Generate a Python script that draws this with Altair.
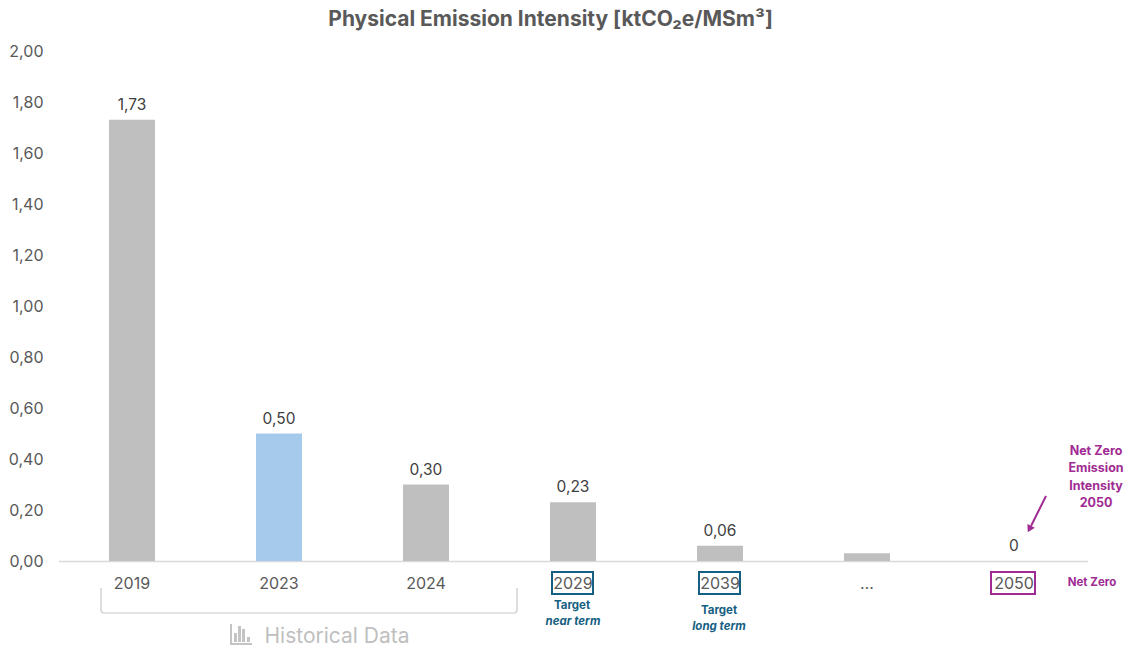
import altair as alt
import pandas as pd

# Emission intensity by year, with printed labels
years = ["2019", "2023", "2024", "2029", "2039", "…", "2050"]
values = [1.73, 0.50, 0.30, 0.23, 0.06, 0.03, 0.0]
labels = ["1,73", "0,50", "0,30", "0,23", "0,06", "", "0"]
bar_colors = ["#bfbfbf", "#a6caec", "#bfbfbf", "#bfbfbf", "#bfbfbf", "#bfbfbf", "#bfbfbf"]

TEAL = "#156082"
MAGENTA = "#a02b93"
GREY_TEXT = "#595959"
FONT = "Inter"

bars_df = pd.DataFrame({"year": years, "value": values, "label": labels, "color": bar_colors})

x_enc = alt.X(
    "year:N",
    sort=years,
    title=None,
    scale=alt.Scale(paddingInner=0, paddingOuter=0),
    axis=alt.Axis(
        labelAngle=0, labelFontSize=16, labelColor=GREY_TEXT, labelFont=FONT, labelPadding=14,
        ticks=False, domainColor="#d9d9d9", domainWidth=1.5, grid=False,
    ),
)
y_enc = alt.Y(
    "value:Q",
    title=None,
    scale=alt.Scale(domain=[0, 2], nice=False),
    axis=alt.Axis(
        values=[0, 0.2, 0.4, 0.6, 0.8, 1.0, 1.2, 1.4, 1.6, 1.8, 2.0],
        labelExpr="replace(format(datum.value, '.2f'), '.', ',')",
        labelFontSize=16, labelColor=GREY_TEXT, labelFont=FONT, labelPadding=15.5,
        ticks=False, domain=False, grid=False,
    ),
)

bars = alt.Chart(bars_df).mark_bar(size=46).encode(
    x=x_enc, y=y_enc, color=alt.Color("color:N", scale=None, legend=None)
)
bar_labels = alt.Chart(bars_df).mark_text(
    dy=-15, fontSize=15.5, font=FONT, color="#404040"
).encode(x=x_enc, y=y_enc, text="label:N")

OX, OY = 58.5, 51  # plot origin on the page
one_row = pd.DataFrame({"t": [0]})

# Notes and frames sit in the plot's pixel space, below and beside the bars
def note(text, px, py, color, size=11.5, weight="bold", style="normal"):
    return alt.Chart(pd.DataFrame({"t": [text]})).mark_text(
        fontSize=size, fontWeight=weight, fontStyle=style, color=color, font=FONT
    ).encode(x=alt.value(px - OX), y=alt.value(py - OY), text="t:N")

def frame(x0, x1, y0, y1, color):
    return alt.Chart(one_row).mark_rect(fill=None, stroke=color, strokeWidth=2).encode(
        x=alt.value(x0 - OX), x2=alt.value(x1 - OX), y=alt.value(y0 - OY), y2=alt.value(y1 - OY)
    )

def segment(x0, y0, x1, y1, color, width):
    return alt.Chart(one_row).mark_rule(color=color, strokeWidth=width).encode(
        x=alt.value(x0 - OX), x2=alt.value(x1 - OX), y=alt.value(y0 - OY), y2=alt.value(y1 - OY)
    )

def block(x0, x1, y0, y1):
    return alt.Chart(one_row).mark_rect(fill="#c4c4c4").encode(
        x=alt.value(x0 - OX), x2=alt.value(x1 - OX), y=alt.value(y0 - OY), y2=alt.value(y1 - OY)
    )

frames = [
    frame(552, 593, 572, 594, TEAL),
    frame(699, 740, 572, 594, TEAL),
    frame(991, 1035, 572, 594, MAGENTA),
]
notes = [
    note("Target", 572, 606, TEAL),
    note("near term", 573, 622, TEAL, style="italic"),
    note("Target", 719, 611, TEAL),
    note("long term", 719, 627, TEAL, style="italic"),
    note("Net Zero", 1092, 583, MAGENTA),
    note("Net Zero", 1096, 451, MAGENTA, size=12.5),
    note("Emission", 1096, 468, MAGENTA, size=12.5),
    note("Intensity", 1096, 486, MAGENTA, size=12.5),
    note("2050", 1096, 503, MAGENTA, size=12.5),
    note("Historical Data", 337, 637, "#bfbfbf", size=21, weight="normal"),
]
BRACKET = "#c8c8c8"
bracket = [
    segment(101, 588, 101, 611, BRACKET, 1.2),
    segment(101, 611, 103, 613, BRACKET, 1.2),
    segment(103, 613, 515, 613, BRACKET, 1.2),
    segment(515, 613, 517, 611, BRACKET, 1.2),
    segment(517, 611, 517, 588, BRACKET, 1.2),
]
arrow_line = segment(1046, 496, 1031, 526, MAGENTA, 2)
arrow_head = alt.Chart(one_row).mark_point(
    shape="triangle", filled=True, size=70, angle=207, color=MAGENTA, opacity=1
).encode(x=alt.value(1030 - OX), y=alt.value(528 - OY))

# Small bar-chart glyph next to the "Historical Data" caption
icon = [
    block(230, 232, 624, 645),
    block(230, 252, 643, 645),
    block(234, 237, 633, 642),
    block(238, 241, 626, 642),
    block(242, 245, 629, 642),
    block(247, 250, 637, 642),
]

chart = alt.layer(
    bars, bar_labels, *frames, *notes, *bracket, arrow_line, arrow_head, *icon
).properties(
    width=1029,
    height=510,
    padding={"left": 58.5, "top": 51, "right": 43.5, "bottom": 87},
    autosize=alt.AutoSizeParams(type="none"),
    background="white",
    title=alt.TitleParams(
        "Physical Emission Intensity [ktCO₂e/MSm³]",
        font=FONT, fontSize=21, fontWeight="bold", color=GREY_TEXT,
        anchor="start", offset=13, dx=320,
    ),
).configure_view(stroke=None)

chart.save("out.html", embed_options={"renderer": "svg", "actions": False})
